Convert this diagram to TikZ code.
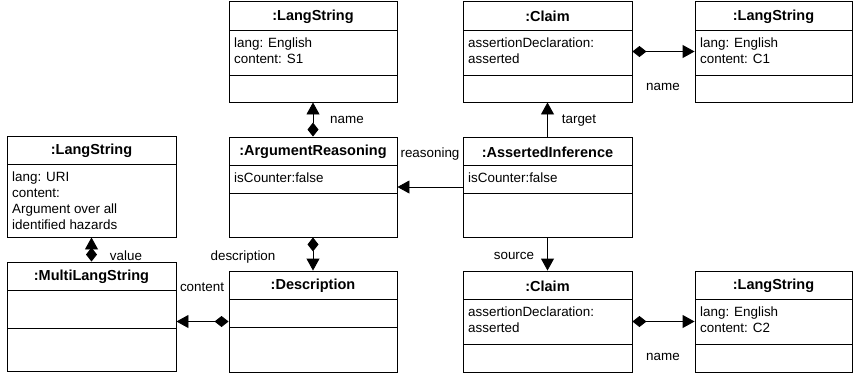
\documentclass[tikz,border=0pt]{standalone}
\usepackage{fontspec}
\setmainfont{Liberation Sans}
\usetikzlibrary{arrows.meta,fit}
\tikzset{
  x=1bp, y=-1bp,
  box/.style={draw, line width=0.9bp, inner sep=0pt},
  div/.style={line width=0.9bp},
  ttl/.style={font=\fontsize{14.5bp}{16bp}\selectfont\bfseries, inner sep=0pt},
  attr/.style={font=\fontsize{13.4bp}{15.7bp}\selectfont, inner sep=0pt, align=left, anchor=north west},
  lbl/.style={font=\fontsize{13.4bp}{15.7bp}\selectfont, inner sep=0pt},
  assoc/.style={line width=0.9bp, -{Triangle[length=12bp,width=13bp]}},
  comp/.style={line width=0.9bp, {Diamond[length=14bp,width=11bp]}-{Triangle[length=12bp,width=13bp]}}
}
% #1 name, #2 left, #3 top, #4 right, #5 bottom, #6 header y, #7 divider y (empty: none), #8 title, #9 attributes
\newcommand\objbox[9]{%
  \node[box, fit={(#2,#3) (#4,#5)}] (#1) {};
  \draw[div] (#2,#6) -- (#4,#6);
  \if\relax\detokenize{#7}\relax\else\draw[div] (#2,#7) -- (#4,#7);\fi
  \node[ttl] (#1-t) at ({(#2+#4)/2},{(#3+#6)/2+1}) {#8};
  \node[attr] (#1-a) at ({#2+5},{#6+8}) {#9};
}
\begin{document}
\begin{tikzpicture}
\useasboundingbox (0,0) rectangle (853,376);
\objbox{lsa}{229}{1}{397}{102}{30}{75}{:LangString}{lang: English\\content: S1}
\objbox{cla}{463}{1}{632}{102}{30}{75}{:Claim}{assertionDeclaration:\\asserted}
\objbox{lsc}{695}{1}{852}{102}{30}{75}{:LangString}{lang: English\\content: C1}
\objbox{ar}{229}{137}{397}{237}{165}{193}{:ArgumentReasoning}{isCounter:false}
\objbox{ai}{463}{137}{632}{237}{165}{193}{:AssertedInference}{isCounter:false}
\objbox{lsu}{7}{136}{176}{237}{164}{}{:LangString}{lang: URI\\content:\\Argument over all\\identified hazards}
\objbox{mls}{7}{262}{176}{371}{290}{328}{:MultiLangString}{}
\objbox{desc}{229}{271}{397}{372}{299}{327}{:Description}{}
\objbox{clb}{463}{271}{632}{372}{299}{344}{:Claim}{assertionDeclaration:\\asserted}
\objbox{lsd}{695}{271}{852}{372}{299}{344}{:LangString}{lang: English\\content: C2}

\draw[comp] (ar.north) -- (lsa.south);
\draw[assoc] (ai.north) -- (cla.south);
\draw[comp] (cla.east) -- (lsc.west);
\draw[assoc] (ai.west) -- (ar.east);
\draw[assoc] (ai.south) -- (clb.north);
\draw[comp] (clb.east) -- (lsd.west);
\draw[comp] (ar.south) -- (desc.north);
\draw[comp] (desc.west) -- (desc.west -| mls.east);
\draw[comp] (mls.north) -- (lsu.south);

\node[lbl] (l1) at (347,120) {name};
\node[lbl] (l2) at (430,154) {reasoning};
\node[lbl] (l3) at (579,121) {target};
\node[lbl] (l4) at (663,87) {name};
\node[lbl] (l5) at (126,256) {value};
\node[lbl] (l6) at (202,287) {content};
\node[lbl] (l7) at (243,257) {description};
\node[lbl] (l8) at (514,256) {source};
\node[lbl] (l9) at (663,357) {name};
\end{tikzpicture}
\end{document}
